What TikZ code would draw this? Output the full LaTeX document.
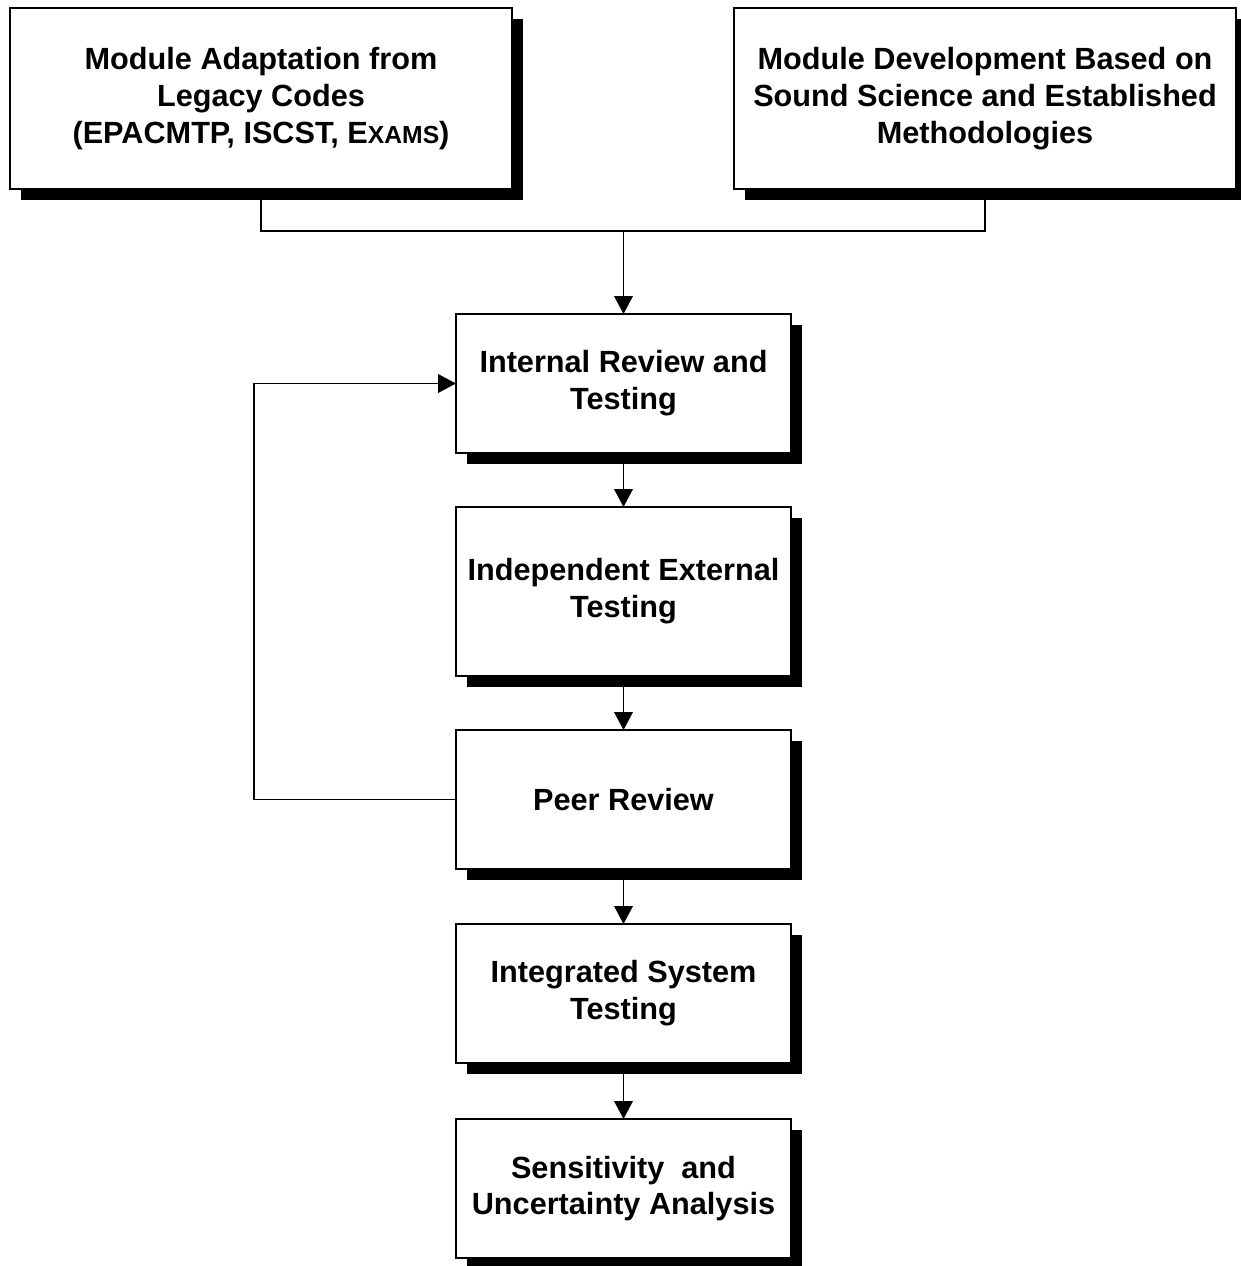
\documentclass[tikz,border=0pt]{standalone}
\usepackage{fontspec}
\setmainfont{Liberation Sans}
\usetikzlibrary{arrows.meta,shadows}

% small-caps look for the code name
\newcommand{\fakesc}[1]{{\fontsize{18.5}{20}\selectfont #1}}

\begin{document}
\begin{tikzpicture}[x=0.75pt,y=-0.75pt,
  stagebox/.style={draw, fill=white, line width=1.2pt, inner sep=0pt, outer sep=0pt,
    align=center, font=\bfseries\fontsize{23}{27.6}\selectfont,
    drop shadow={shadow xshift=8.25pt, shadow yshift=-8.5pt, fill=black, opacity=1}},
  topbox/.style={stagebox, minimum width=376.5pt, minimum height=135.75pt},
  midbox/.style={stagebox, minimum width=251.25pt, minimum height=104.25pt},
  link/.style={line width=1.2pt},
  flow/.style={link, -{Triangle[length=13.5pt,width=14pt]}}]

\useasboundingbox (0,0) rectangle (1241,1266);

% source boxes
\node[topbox] (adapt) at (261,98.5)
  {Module Adaptation from\\Legacy Codes\\(EPACMTP, ISCST, E\fakesc{XAMS})};
\node[topbox] (develop) at (985,98.5)
  {Module Development Based on\\Sound Science and Established\\Methodologies};

% review and testing chain
\node[midbox] (internal) at (623.5,383.5) {Internal Review and\\Testing};
\node[midbox, minimum height=126.75pt] (external) at (623.5,591.5) {Independent External\\Testing};
\node[midbox] (peer) at (623.5,799.5) {Peer Review};
\node[midbox] (system) at (623.5,993.5) {Integrated System\\Testing};
\node[midbox] (sens) at (623.5,1188.5) {Sensitivity\ \ and\\Uncertainty Analysis};

% merge of the two sources
\coordinate (join) at (internal.north |- 0,231);
\draw[link] (adapt.south) |- (join) -| (develop.south);
\draw[flow] (join) -- (internal.north);

\draw[flow] (internal.south) -- (external.north);
\draw[flow] (external.south) -- (peer.north);
\draw[flow] (peer.south) -- (system.north);
\draw[flow] (system.south) -- (sens.north);

% feedback loop from peer review
\coordinate (loop) at (254,0);
\draw[flow] (peer.west) -- (loop |- peer.west) |- (internal.west);

\end{tikzpicture}
\end{document}
